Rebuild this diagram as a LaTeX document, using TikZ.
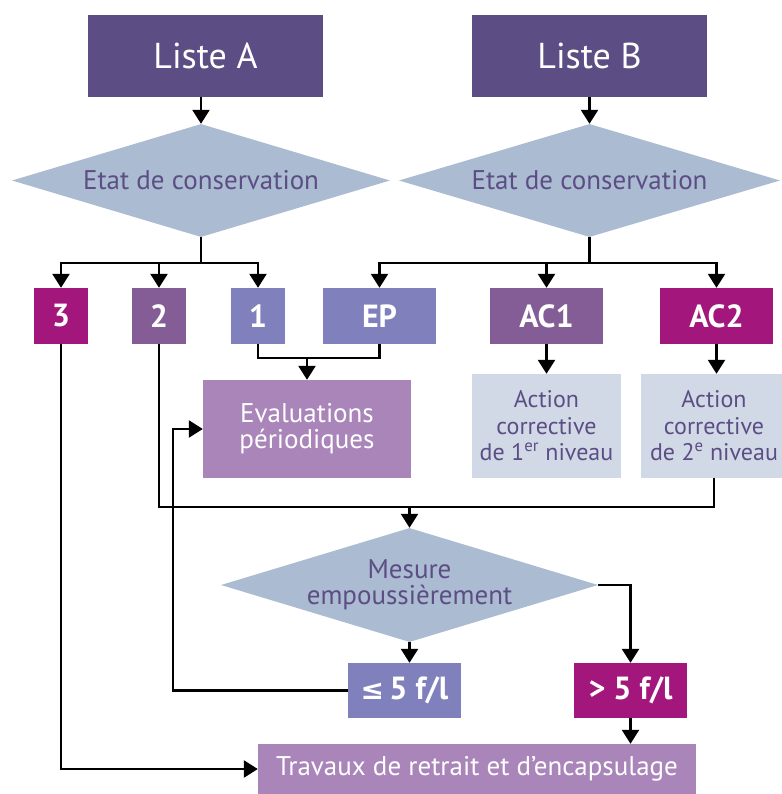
\documentclass[tikz,border=0pt]{standalone}
\usepackage{fontspec}
\setmainfont{PT Sans}
\newfontfamily\dejavu{DejaVu Sans}
\usetikzlibrary{arrows.meta,shapes.geometric}
\definecolor{listc}{HTML}{5C4E85}
\definecolor{diamc}{HTML}{ABBBD1}
\definecolor{magc}{HTML}{A3177D}
\definecolor{midc}{HTML}{845C96}
\definecolor{lightc}{HTML}{8080BC}
\definecolor{evc}{HTML}{A985BA}
\definecolor{actc}{HTML}{D1D9E6}
\begin{document}
\begin{tikzpicture}[x=1pt,y=-1pt,
  box/.style={rectangle,inner sep=0pt,align=center},
  listbox/.style={box,fill=listc,text=white,minimum width=235pt,minimum height=82pt,font=\fontsize{36}{40}\selectfont},
  dia/.style={diamond,inner sep=0pt,fill=diamc,text=listc,align=center,font=\fontsize{27}{26}\selectfont},
  numbox/.style={box,text=white,minimum height=56pt,font=\bfseries\fontsize{32}{32}\selectfont},
  lightbox/.style={box,fill=evc,text=white,font=\fontsize{27}{26}\selectfont},
  actbox/.style={box,fill=actc,text=listc,font=\fontsize{24}{26.5}\selectfont},
  conn/.style={line width=2.5pt,line join=miter},
  arr/.style={conn,-{Triangle[width=17pt,length=14pt]}}]
\useasboundingbox (0,0) rectangle (781,794);
% top
\node[listbox] (lA) at (205.5,56) {Liste A};
\node[listbox] (lB) at (589.5,56) {Liste B};
\node[dia,shape aspect=3.35,minimum width=378pt,minimum height=113pt] (dA) at (201,180.5) {Etat de conservation};
\node[dia,shape aspect=3.37,minimum width=381pt,minimum height=113pt] (dB) at (589.5,180.5) {Etat de conservation};
% row
\node[numbox,fill=magc,minimum width=54pt] (b3) at (61,316) {3};
\node[numbox,fill=midc,minimum width=54pt] (b2) at (159,316) {2};
\node[numbox,fill=lightc,minimum width=54pt] (b1) at (258,316) {1};
\node[numbox,fill=lightc,minimum width=113pt] (ep) at (379.5,316) {EP};
\node[numbox,fill=midc,minimum width=113pt] (ac1) at (546.5,316) {AC1};
\node[numbox,fill=magc,minimum width=113pt] (ac2) at (716.5,316) {AC2};
% results
\node[lightbox,minimum width=208pt,minimum height=98pt] (ev) at (307,429) {Evaluations\\périodiques};
\node[actbox,minimum width=149pt,minimum height=104pt] (act1) at (546.5,426) {Action\\corrective\\de 1\textsuperscript{er} niveau};
\node[actbox,minimum width=146pt,minimum height=104pt] (act2) at (714,426) {Action\\corrective\\de 2\textsuperscript{e} niveau};
% measure
\node[dia,shape aspect=3.3,minimum width=377pt,minimum height=114pt] (dM) at (409.5,585) {Mesure\\empoussièrement};
\node[numbox,fill=lightc,minimum width=113pt,minimum height=55pt] (le5) at (404.5,690.5) {{\dejavu\bfseries\fontsize{28}{28}\selectfont ≤}\,5 f/l};
\node[numbox,fill=magc,minimum width=113pt,minimum height=55pt] (gt5) at (630.5,690.5) {> 5 f/l};
\node[lightbox,minimum width=438pt,minimum height=50pt] (tr) at (477,769) {Travaux de retrait et d’encapsulage};
% connectors
\draw[arr] (lA.south -| dA.north) -- (dA.north);
\draw[arr] (lB.south -| dB.north) -- (dB.north);
\coordinate (busA) at (201,263);
\coordinate (busB) at (589.5,263);
\draw[conn] (dA.south) -- (busA);
\draw[conn] (dB.south) -- (busB);
\draw[arr] (busA) -| (b3.north);
\draw[arr] (busA) -| (b2.north);
\draw[arr] (busA) -| (b1.north);
\draw[arr] (busB) -| (ep.north);
\draw[arr] (busB) -| (ac1.north);
\draw[arr] (busB) -| (ac2.north);
\coordinate (jE) at (307,358);
\draw[conn] (b1.south) |- (jE) -| (ep.south);
\draw[arr] (jE) -- (ev.north);
\draw[arr] (ac1.south) -- (act1.north -| ac1.south);
\draw[arr] (ac2.south) -- (act2.north -| ac2.south);
\coordinate (jM) at (409.5,507);
\draw[conn] (b2.south) |- (jM) -| (act2.south);
\draw[arr] (jM) -- (dM.north);
\draw[arr] (dM.south) -- (dM.south |- le5.north);
\draw[arr] (dM.east) -| (gt5.north);
\draw[arr] (gt5.south) -- (gt5.south |- tr.north);
\draw[arr] (b3.south) |- (tr.west);
\coordinate (cL) at (173,690.5);
\draw[arr] (le5.west) -- (cL) |- (ev.west);
\end{tikzpicture}
\end{document}
